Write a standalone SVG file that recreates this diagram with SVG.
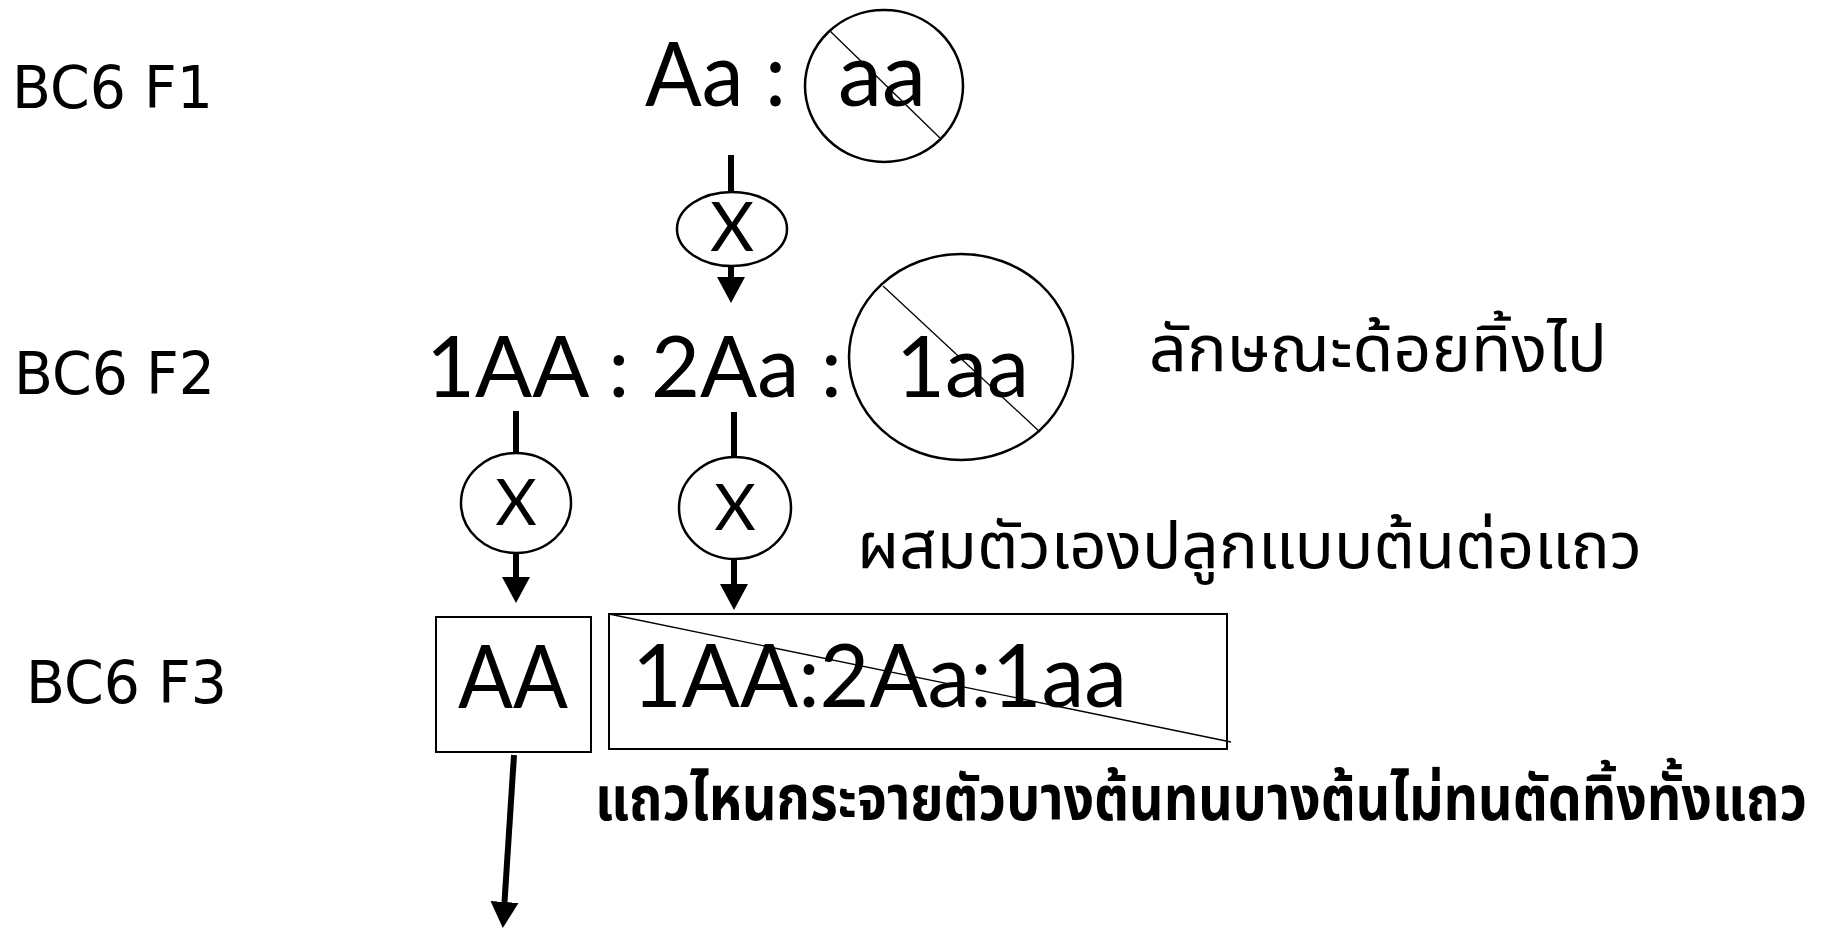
<svg xmlns="http://www.w3.org/2000/svg" width="1829" height="928" viewBox="0 0 1829 928">
  <style>
    .bg { fill: #ffffff; }
    .gen { font-family: "DejaVu Sans", Verdana, sans-serif; font-size: 58px; fill: #000; }
    .geno { font-family: Lato, "Open Sans", sans-serif; fill: #000; }
    .cross { font-family: Lato, "Open Sans", sans-serif; fill: #000; text-anchor: middle; }
    .thai { font-family: "Noto Sans Thai", "Norasi", "Loma", "Garuda", "Noto Sans", sans-serif; fill: #000; }
    .thaib { font-family: "Noto Sans Thai", "Loma", "Garuda", "Noto Sans", sans-serif; font-weight: bold; fill: #000; }
    .ring { fill: none; stroke: #000; stroke-width: 2.5; }
    .box { fill: none; stroke: #000; stroke-width: 2; }
    .strike { stroke: #000; stroke-width: 1.3; }
    .link { stroke: #000; stroke-width: 6; fill: none; }
  </style>
  <defs>
    <marker id="head" markerUnits="userSpaceOnUse" markerWidth="30" markerHeight="30" viewBox="0 0 30 30" refX="0" refY="15" orient="auto">
      <path d="M0,1 L26,15 L0,29 z" fill="#000"/>
    </marker>
  </defs>

  <rect class="bg" x="0" y="0" width="1829" height="928"/>

  <!-- generation labels -->
  <g id="label-f1"><text class="gen" x="12" y="108" textLength="201" lengthAdjust="spacingAndGlyphs">BC6 F1</text></g>
  <g id="label-f2"><text class="gen" x="14" y="394" textLength="201" lengthAdjust="spacingAndGlyphs">BC6 F2</text></g>
  <g id="label-f3"><text class="gen" x="26" y="703" textLength="201" lengthAdjust="spacingAndGlyphs">BC6 F3</text></g>

  <!-- F1 genotypes -->
  <g id="f1-genotypes">
    <text class="geno" x="645" y="106" font-size="90" textLength="141" lengthAdjust="spacingAndGlyphs">Aa :</text>
    <text class="geno" x="838" y="106" font-size="90" textLength="88" lengthAdjust="spacingAndGlyphs">aa</text>
    <ellipse class="ring" cx="884" cy="86" rx="79" ry="76"/>
    <line class="strike" x1="830" y1="31" x2="940" y2="138"/>
  </g>

  <!-- F2 genotypes -->
  <g id="f2-genotypes">
    <text class="geno" x="426" y="397" font-size="86" textLength="416" lengthAdjust="spacingAndGlyphs">1AA : 2Aa :</text>
    <text class="geno" x="896" y="397" font-size="86" textLength="133" lengthAdjust="spacingAndGlyphs">1aa</text>
    <ellipse class="ring" cx="961" cy="357" rx="112" ry="103"/>
    <line class="strike" x1="883" y1="286" x2="1040" y2="432"/>
  </g>

  <g id="note-discard">
    <text class="thai" x="1149" y="371" font-size="64" textLength="458" lengthAdjust="spacingAndGlyphs">ลักษณะด้อยทิ้งไป</text>
  </g>

  <g id="note-selfing">
    <text class="thai" x="857" y="568" font-size="64" textLength="785" lengthAdjust="spacingAndGlyphs">ผสมตัวเองปลูกแบบต้นต่อแถว</text>
  </g>

  <!-- selfing symbols -->
  <g id="cross-f1">
    <ellipse class="ring" cx="732" cy="229" rx="55" ry="37"/>
    <text class="cross" x="732" y="251" font-size="68">X</text>
  </g>
  <g id="cross-f2-aa">
    <ellipse class="ring" cx="516" cy="503" rx="55" ry="50"/>
    <text class="cross" x="516" y="525" font-size="64">X</text>
  </g>
  <g id="cross-f2-ab">
    <ellipse class="ring" cx="735" cy="508" rx="56" ry="51"/>
    <text class="cross" x="735" y="530" font-size="64">X</text>
  </g>

  <!-- F3 rows -->
  <g id="f3-homozygous">
    <rect class="box" x="436" y="617" width="155" height="135"/>
    <text class="geno" x="458" y="708" font-size="88" textLength="110" lengthAdjust="spacingAndGlyphs">AA</text>
  </g>
  <g id="f3-segregating">
    <rect class="box" x="609" y="614" width="618" height="135"/>
    <text class="geno" x="632" y="707" font-size="88" textLength="495" lengthAdjust="spacingAndGlyphs">1AA:2Aa:1aa</text>
    <line class="strike" x1="609" y1="614" x2="1231" y2="742"/>
  </g>

  <!-- condensed bold note, narrowed horizontally -->
  <g id="note-rogue">
    <text class="thaib" transform="translate(595 820) scale(0.75 1)" x="0" y="0" font-size="62" textLength="1616" lengthAdjust="spacingAndGlyphs">แถวไหนกระจายตัวบางต้นทนบางต้นไม่ทนตัดทิ้งทั้งแถว</text>
  </g>

  <!-- connectors -->
  <g id="connectors">
    <line class="link" x1="731" y1="155" x2="731" y2="192"/>
    <line class="link" x1="731" y1="266" x2="731" y2="277" marker-end="url(#head)"/>
    <line class="link" x1="516" y1="411" x2="516" y2="453"/>
    <line class="link" x1="516" y1="553" x2="516" y2="577" marker-end="url(#head)"/>
    <line class="link" x1="734" y1="412" x2="734" y2="457"/>
    <line class="link" x1="734" y1="559" x2="734" y2="584" marker-end="url(#head)"/>
    <line class="link" x1="514" y1="755" x2="504.5" y2="902" marker-end="url(#head)"/>
  </g>
</svg>
